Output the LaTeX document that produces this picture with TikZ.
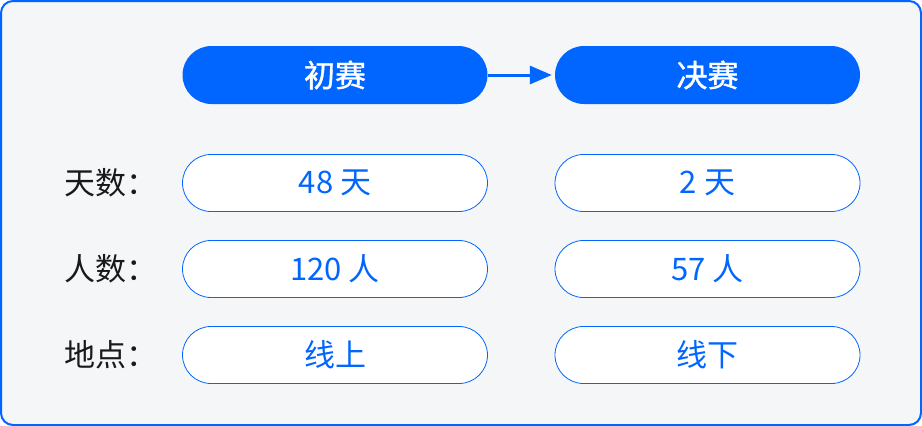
\documentclass[tikz,border=0pt]{standalone}
\usepackage{fontspec}
\newfontfamily\cjk{Noto Sans CJK SC}
\newfontfamily\cjkmid[FakeBold=1.2]{Noto Sans CJK SC}
\usetikzlibrary{arrows.meta}
\definecolor{brandblue}{HTML}{0066FF}
\definecolor{panelgray}{HTML}{F5F6F8}
\begin{document}
\begin{tikzpicture}[x=1pt,y=-1pt,
    stage/.style={fill=brandblue,text=white,minimum width=305pt,minimum height=58pt,
      rounded corners=29pt,font=\cjkmid\fontsize{31}{34}\selectfont},
    cell/.style={draw=brandblue,fill=white,text=brandblue,line width=.8pt,minimum width=305pt,
      minimum height=57pt,rounded corners=28.5pt,font=\cjk\fontsize{31}{34}\selectfont},
    rowlabel/.style={text=black!90,anchor=west,inner sep=0pt,font=\cjk\fontsize{31}{34}\selectfont}]
    \useasboundingbox (0,0) rectangle (922,426);
    \draw[brandblue,line width=2pt,fill=panelgray,rounded corners=12pt] (1,1) rectangle (921,425);
    \node[stage] (prelim) at (335,75) {初赛};
    \node[stage] (final) at (707.5,75) {决赛};
    \draw[brandblue,line width=3pt,-{Triangle[length=22pt,width=18pt]}] (prelim.east) -- ([xshift=-3pt]final.west);
    \foreach \name/\lab/\a/\b [count=\i] in {days/天数：/48 天/2 天,people/人数：/120 人/57 人,place/地点：/线上/线下}
    {
      \node[rowlabel] (\name-label) at (64,97+86*\i) {\lab};
      \node[cell] (\name-prelim) at (335,97+86*\i) {\a};
      \node[cell] (\name-final) at (707.5,97+86*\i) {\b};
    }
\end{tikzpicture}
\end{document}
